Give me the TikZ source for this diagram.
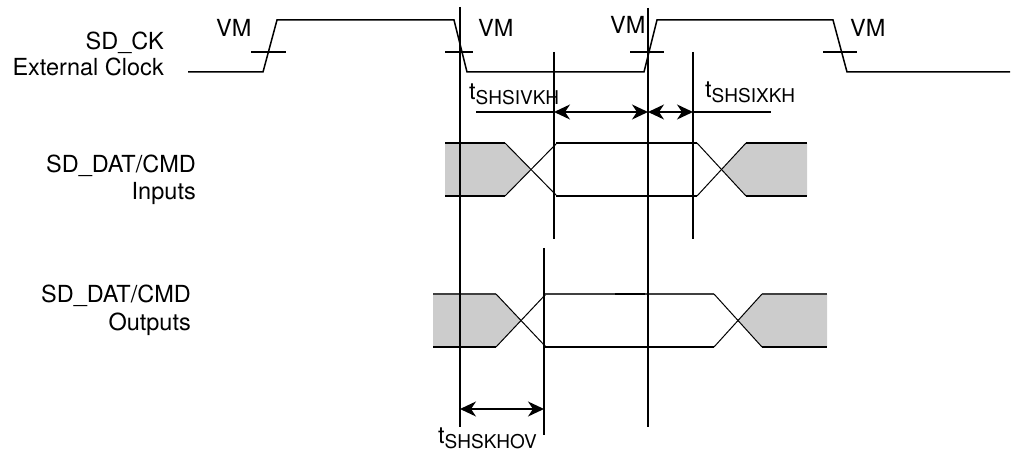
\documentclass[tikz,border=0pt]{standalone}
\usepackage{fontspec}
\setmainfont{TeX Gyre Heros}
\usetikzlibrary{arrows.meta}
\newcommand{\tsub}[1]{t\raisebox{-5pt}{\fontsize{19}{20}\selectfont #1}}
\begin{document}
\begin{tikzpicture}[x=1pt,y=-1pt,
  lbl/.style={inner sep=0pt, font=\fontsize{23.5}{26}\selectfont},
  wave/.style={line width=1.5pt},
  vline/.style={line width=2.2pt},
  busline/.style={line width=1.6pt},
  xline/.style={line width=1pt},
  dimarrow/.style={line width=1.8pt, {Stealth[length=16pt,width=15pt,inset=5pt]}-{Stealth[length=16pt,width=15pt,inset=5pt]}},
  extline/.style={line width=1.8pt},
  greyfill/.style={fill=black!20, draw=none}]
\useasboundingbox (0,0) rectangle (1011,454);

% ---- clock ----
\draw[wave] (188,72) -- (263,72) -- (277,20) -- (454,20) -- (467,72) -- (644,72) -- (657,20) -- (833,20) -- (847,72) -- (1010,72);
\draw[wave] (251,52) -- (286,52);
\draw[wave] (445,52) -- (473,52);
\draw[wave] (630,52) -- (664,52);
\draw[wave] (823,52) -- (857,52);

% ---- inputs bus ----
\fill[greyfill] (445,143) -- (505,143) -- (531,169.5) -- (505,196) -- (445,196) -- cycle;
\fill[greyfill] (807,143) -- (746,143) -- (722,169.5) -- (746,196) -- (807,196) -- cycle;
\draw[busline] (445,143) -- (505,143);
\draw[busline] (445,196) -- (505,196);
\draw[xline] (505,143) -- (557,196);
\draw[xline] (505,196) -- (557,143);
\draw[busline] (556,143) -- (697,143);
\draw[busline] (556,196) -- (697,196);
\draw[xline] (697,143) -- (746,196);
\draw[xline] (697,196) -- (746,143);
\draw[busline] (746,143) -- (807,143);
\draw[busline] (746,196) -- (807,196);

% ---- outputs bus ----
\fill[greyfill] (433,294) -- (496,294) -- (521,320.5) -- (496,347) -- (433,347) -- cycle;
\fill[greyfill] (827,294) -- (762,294) -- (738,320.5) -- (762,347) -- (827,347) -- cycle;
\draw[busline, black!75] (433,294) -- (496,294);
\draw[busline] (433,347) -- (496,347);
\draw[xline] (496,294) -- (546,347);
\draw[xline] (496,347) -- (546,294);
\draw[busline, black!75] (545,294) -- (714,294);
\draw[busline] (615,294) -- (645,294);
\draw[busline] (545,347) -- (714,347);
\draw[xline] (714,294) -- (762,347);
\draw[xline] (714,347) -- (762,294);
\draw[busline, black!75] (762,294) -- (827,294);
\draw[busline] (762,347) -- (827,347);

% ---- vertical reference lines ----
\draw[vline] (460,7) -- (460,427);
\draw[vline] (554,52) -- (554,239);
\draw[vline] (648,8) -- (648,427);
\draw[vline] (693,52) -- (693,239);
\draw[vline] (544,248) -- (544,435);

% ---- dimension arrows ----
\coordinate (e1) at (476,112);
\coordinate (a1) at (554,112);
\coordinate (a2) at (648,112);
\coordinate (a3) at (693,112);
\coordinate (e2) at (771,112);
\draw[extline] (e1) -- (a1);
\draw[dimarrow] (a1) -- (a2);
\draw[dimarrow] (a2) -- (a3);
\draw[extline] (a3) -- (e2);
\coordinate (b1) at (460,409);
\coordinate (b2) at (544,409);
\draw[dimarrow] (b1) -- (b2);

% ---- labels ----
\node[lbl, anchor=base east] (ck1) at (164,50) {SD\_CK};
\node[lbl, anchor=base east] (ck2) at (164,76) {External Clock};
\node[lbl, anchor=base east] (in1) at (196,172.5) {SD\_DAT/CMD};
\node[lbl, anchor=base east] (in2) at (196,200) {Inputs};
\node[lbl, anchor=base east] (out1) at (191,302) {SD\_DAT/CMD};
\node[lbl, anchor=base east] (out2) at (191,330) {Outputs};
\node[lbl, anchor=base west] (vm1) at (216,37) {VM};
\node[lbl, anchor=base west] (vm2) at (478,37) {VM};
\node[lbl, anchor=base west] (vm3) at (610,34) {VM};
\node[lbl, anchor=base west] (vm4) at (850,37) {VM};
\node[lbl, anchor=base west] (t1) at (469,100) {\tsub{SHSIVKH}};
\node[lbl, anchor=base west] (t2) at (705,98) {\tsub{SHSIXKH}};
\node[lbl, anchor=base west] (t3) at (438,443) {\tsub{SHSKHOV}};
\end{tikzpicture}
\end{document}
